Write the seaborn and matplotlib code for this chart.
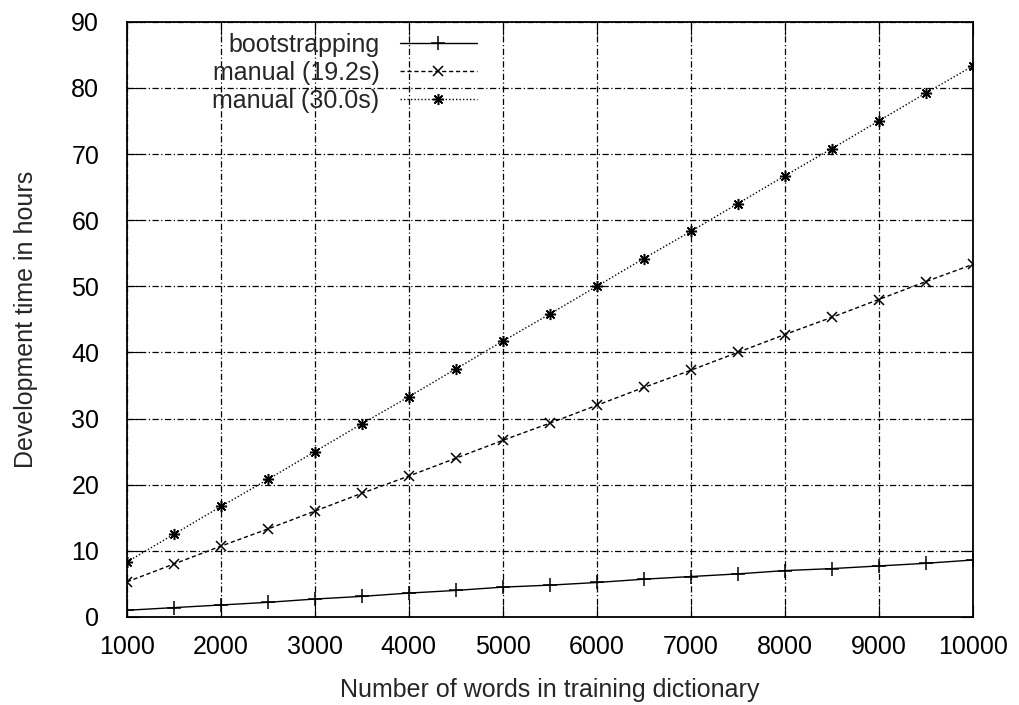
import matplotlib
matplotlib.use("Agg")
import matplotlib.pyplot as plt
import seaborn as sns
import pandas as pd

words = [1000, 1500, 2000, 2500, 3000, 3500, 4000, 4500, 5000, 5500,
         6000, 6500, 7000, 7500, 8000, 8500, 9000, 9500, 10000]
bootstrapping = [1.0, 1.4, 1.8, 2.2, 2.7, 3.1, 3.6, 4.0, 4.5, 4.8,
                 5.2, 5.7, 6.1, 6.5, 7.0, 7.3, 7.7, 8.1, 8.6]
manual_192 = [5.3, 8.0, 10.7, 13.3, 16.0, 18.7, 21.3, 24.0, 26.7, 29.3,
              32.0, 34.7, 37.3, 40.0, 42.7, 45.3, 48.0, 50.7, 53.3]
manual_300 = [8.3, 12.5, 16.7, 20.8, 25.0, 29.2, 33.3, 37.5, 41.7, 45.8,
              50.0, 54.2, 58.3, 62.5, 66.7, 70.8, 75.0, 79.2, 83.3]
labels = ["bootstrapping", "manual (19.2s)", "manual (30.0s)"]

sns.set_style("ticks")
plt.rcParams['font.family'] = ['Liberation Sans', 'DejaVu Sans']
size = 18
plt.rcParams.update({'axes.labelsize': size, 'xtick.labelsize': size,
                     'ytick.labelsize': size, 'legend.fontsize': size})

df = pd.DataFrame({"words": words * 3,
                   "hours": bootstrapping + manual_192 + manual_300,
                   "series": [labels[0]] * len(words) + [labels[1]] * len(words) + [labels[2]] * len(words)})

fig = plt.figure(figsize=(10.2, 7.05), dpi=100)
ax = fig.add_axes([0.1245, 0.125, 0.829, 0.844])

# marker, linestyle, marker size
styles = {labels[0]: ("+", "-", 10),
          labels[1]: ("x", (0, (3, 2)), 7),
          labels[2]: ((8, 2, 0), (0, (1, 1.5)), 8)}
for lab in labels:
    mk, ls, ms = styles[lab]
    sub = df[df["series"] == lab]
    sns.lineplot(data=sub, x="words", y="hours", ax=ax, color="black", lw=1.0,
                 linestyle=ls, marker=mk, markersize=ms, markeredgewidth=1.1,
                 markeredgecolor="black", label=lab)

ax.set_xlim(1000, 10000)
ax.set_ylim(0, 90)
ax.set_xticks(range(1000, 10001, 1000))
ax.set_yticks(range(0, 91, 10))
ax.grid(True, color="black", lw=0.9, linestyle=(0, (5, 2, 1, 2)))
ax.tick_params(direction="in", length=9, top=True, right=True, colors="black")
ax.tick_params(axis="x", pad=13)
ax.tick_params(axis="y", pad=20)
for s in ax.spines.values():
    s.set_linewidth(1.3)
    s.set_color("black")
ax.set_xlabel("Number of words in training dictionary", labelpad=14)
ax.set_ylabel("Development time in hours", labelpad=24)

leg = ax.legend(loc="upper right", bbox_to_anchor=(0.414, 0.982), frameon=False,
                markerfirst=False, handlelength=3.1, labelspacing=0.16,
                handletextpad=0.8, borderaxespad=0, borderpad=0)
for t in leg.get_texts():
    t.set_ha("right")

fig.savefig("out.png", dpi=100)
